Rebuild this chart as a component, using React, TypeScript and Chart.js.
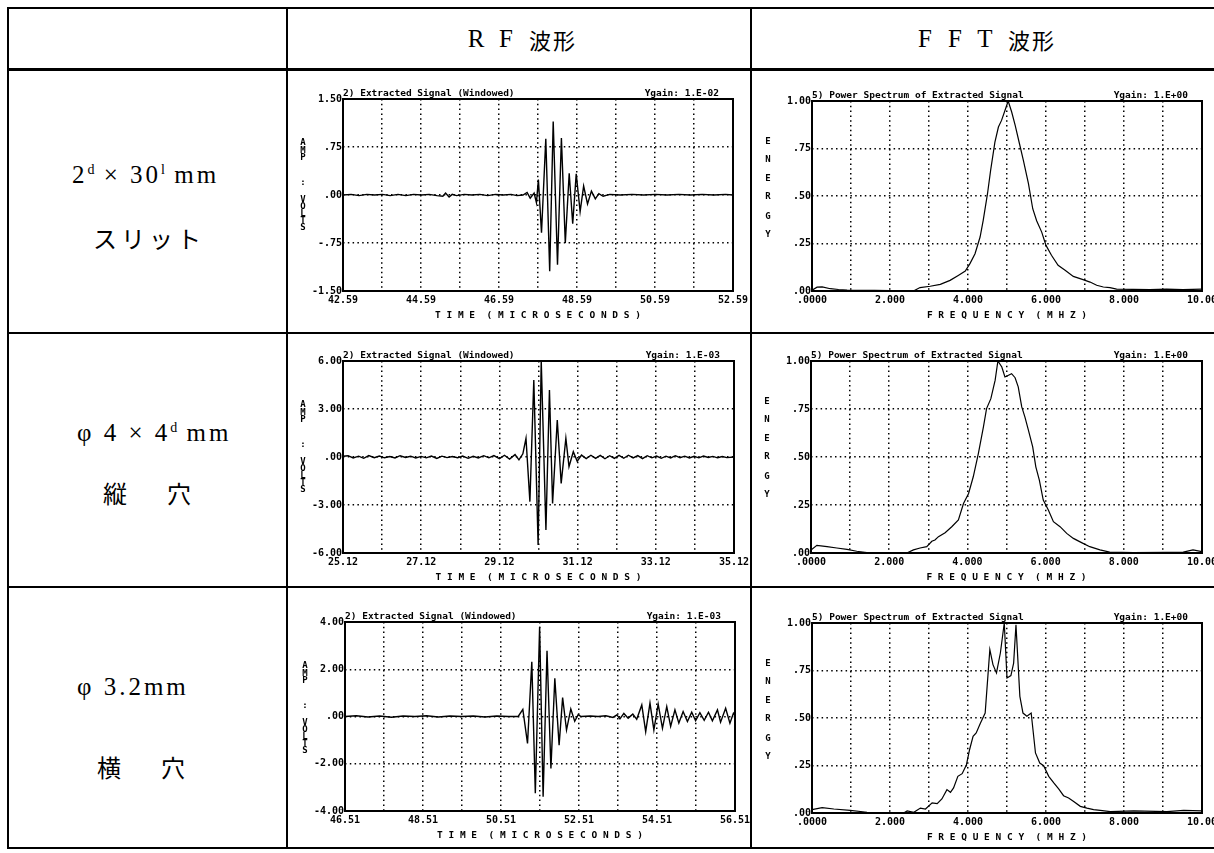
import React, { useEffect, useRef } from 'react';
import { Chart, registerables } from 'chart.js';

Chart.register(...registerables);

// ---------------- DATA ----------------
const headerLabels = ['RF波形', 'FFT波形'];

const rfTitle = '2) Extracted Signal (Windowed)';
const fftTitle = '5) Power Spectrum of Extracted Signal';
const rfXTitle = 'T I M E  ( M I C R O S E C O N D S )';
const fftXTitle = 'F R E Q U E N C Y  ( M H Z )';
const rfYTitle = ['A', 'M', 'P', ':', 'V', 'O', 'L', 'T', 'S'];
const fftYTitle = ['E', 'N', 'E', 'R', 'G', 'Y'];
const rfGains = ['Ygain: 1.E-02', 'Ygain: 1.E-03', 'Ygain: 1.E-03'];
const fftGain = 'Ygain: 1.E+00';

const rf1XLabels = ['42.59', '', '44.59', '', '46.59', '', '48.59', '', '50.59', '', '52.59'];
const rf2XLabels = ['25.12', '', '27.12', '', '29.12', '', '31.12', '', '33.12', '', '35.12'];
const rf3XLabels = ['46.51', '', '48.51', '', '50.51', '', '52.51', '', '54.51', '', '56.51'];
const fftXLabels = ['.0000', '', '2.000', '', '4.000', '', '6.000', '', '8.000', '', '10.00'];
const rf1YLabels = ['-1.50', '-.75', '.00', '.75', '1.50'];
const rf2YLabels = ['-6.00', '-3.00', '.00', '3.00', '6.00'];
const rf3YLabels = ['-4.00', '-2.00', '.00', '2.00', '4.00'];
const fftYLabels = ['.00', '.25', '.50', '.75', '1.00'];

// RF waveform 1 (2d x 30l mm slit)
const rf1Time = [42.59, 42.80, 43.00, 43.20, 43.40, 43.60, 43.80, 44.00, 44.20, 44.40, 44.60, 44.80, 45.00, 45.15, 45.22, 45.31, 45.39, 45.50, 45.70, 45.90, 46.10, 46.30, 46.50, 46.70, 46.90, 47.05, 47.205, 47.31, 47.39, 47.49, 47.55, 47.60, 47.68, 47.79, 47.89, 47.98, 48.09, 48.19, 48.29, 48.39, 48.48, 48.57, 48.67, 48.76, 48.86, 48.96, 49.06, 49.15, 49.26, 49.43, 49.70, 50.00, 50.30, 50.60, 50.90, 51.20, 51.50, 51.80, 52.10, 52.40, 52.59];
const rf1Amp = [0.00, 0.01, -0.01, 0.01, 0.00, 0.01, -0.01, 0.01, -0.01, 0.01, 0.00, 0.01, -0.01, -0.02, 0.03, -0.03, 0.01, -0.01, 0.01, 0.00, 0.01, -0.01, 0.01, 0.00, 0.01, -0.01, 0.00, 0.04, -0.05, 0.03, -0.12, 0.24, -0.59, 0.88, -1.19, 1.15, -1.09, 0.89, -0.75, 0.34, -0.45, 0.33, -0.26, 0.14, -0.14, 0.06, -0.06, 0.02, -0.02, 0.01, 0.00, 0.01, 0.00, 0.01, 0.00, 0.01, 0.00, 0.01, 0.00, 0.01, 0.00];

// RF waveform 2 (phi4 x 4d mm vertical hole)
const rf2Time = [25.12, 25.25, 25.38, 25.52, 25.65, 25.78, 25.92, 26.05, 26.18, 26.32, 26.45, 26.58, 26.72, 26.85, 26.98, 27.12, 27.25, 27.38, 27.52, 27.65, 27.78, 27.92, 28.05, 28.18, 28.32, 28.45, 28.58, 28.72, 28.85, 28.98, 29.12, 29.25, 29.38, 29.52, 29.62, 29.72, 29.80, 29.90, 30.00, 30.11, 30.19, 30.31, 30.40, 30.48, 30.60, 30.70, 30.82, 30.90, 31.01, 31.11, 31.22, 31.34, 31.46, 31.58, 31.70, 31.82, 31.94, 32.06, 32.18, 32.30, 32.42, 32.54, 32.66, 32.78, 32.90, 33.02, 33.14, 33.26, 33.38, 33.50, 33.62, 33.74, 33.86, 33.98, 34.10, 34.22, 34.34, 34.46, 34.58, 34.70, 34.82, 34.94, 35.12];
const rf2Amp = [0.05, 0.08, -0.06, 0.05, -0.08, 0.09, -0.04, 0.06, -0.05, 0.03, -0.06, 0.08, -0.03, 0.05, -0.06, 0.04, -0.05, 0.06, -0.09, 0.05, -0.04, 0.03, -0.05, 0.06, -0.08, 0.04, -0.06, 0.08, -0.05, 0.09, -0.10, 0.11, -0.13, 0.15, -0.18, 0.20, 1.17, -2.79, 4.81, -5.50, 6.00, -4.56, 4.19, -2.90, 2.31, -1.65, 1.17, -0.60, 0.33, -0.27, 0.12, -0.10, 0.11, -0.09, 0.10, -0.11, 0.08, -0.09, 0.10, -0.08, 0.11, -0.06, 0.09, -0.10, 0.08, -0.05, 0.06, -0.08, 0.05, -0.06, 0.08, -0.04, 0.05, -0.06, 0.04, -0.05, 0.06, -0.03, 0.04, -0.05, 0.03, -0.04, 0.00];

// RF waveform 3 (phi3.2 mm side-drilled hole)
const rf3Time = [46.51, 46.80, 47.10, 47.40, 47.70, 48.00, 48.30, 48.60, 48.90, 49.20, 49.50, 49.80, 50.10, 50.40, 50.70, 50.95, 51.07, 51.19, 51.30, 51.39, 51.50, 51.59, 51.69, 51.79, 51.89, 52.00, 52.09, 52.19, 52.30, 52.40, 52.49, 52.56, 52.80, 53.00, 53.20, 53.38, 53.48, 53.56, 53.66, 53.77, 53.89, 53.99, 54.12, 54.22, 54.33, 54.43, 54.54, 54.65, 54.76, 54.86, 54.97, 55.07, 55.18, 55.29, 55.40, 55.50, 55.61, 55.72, 55.83, 55.93, 56.06, 56.14, 56.27, 56.38, 56.47, 56.51];
const rf3Amp = [0.00, 0.03, -0.02, 0.02, -0.03, 0.02, 0.00, 0.03, -0.02, 0.02, 0.00, 0.02, -0.02, 0.02, 0.00, 0.00, 0.30, -1.14, 2.32, -3.25, 3.80, -3.40, 2.78, -2.20, 1.62, -1.21, 0.80, -0.57, 0.32, -0.20, 0.08, 0.00, 0.02, 0.00, 0.03, -0.04, 0.07, -0.10, 0.13, -0.07, 0.10, -0.12, 0.49, -0.64, 0.57, -0.57, 0.52, -0.50, 0.42, -0.42, 0.28, -0.28, 0.21, -0.21, 0.18, -0.18, 0.16, -0.16, 0.18, -0.18, 0.28, -0.24, 0.35, -0.28, 0.14, 0.05];

// FFT spectra
const fft1Freq = [0, 0.13, 0.26, 0.47, 0.68, 0.90, 1.20, 1.60, 2.00, 2.30, 2.60, 2.77, 3.03, 3.29, 3.54, 3.75, 3.93, 4.05, 4.18, 4.31, 4.39, 4.50, 4.58, 4.69, 4.78, 4.86, 4.95, 5.03, 5.12, 5.21, 5.32, 5.42, 5.55, 5.66, 5.76, 5.89, 6.00, 6.14, 6.31, 6.49, 6.70, 6.95, 7.13, 7.30, 7.47, 7.64, 7.81, 8.23, 8.66, 9.09, 9.51, 10.00];
const fft1Energy = [0.004, 0.020, 0.022, 0.012, 0.008, 0.005, 0.004, 0.003, 0.002, 0.001, 0.000, 0.018, 0.025, 0.035, 0.056, 0.082, 0.105, 0.144, 0.196, 0.284, 0.372, 0.512, 0.635, 0.784, 0.863, 0.898, 0.951, 1.000, 0.942, 0.872, 0.775, 0.688, 0.565, 0.433, 0.370, 0.310, 0.240, 0.188, 0.135, 0.109, 0.077, 0.060, 0.047, 0.030, 0.021, 0.018, 0.010, 0.009, 0.007, 0.010, 0.007, 0.010];

const fft2Freq = [0, 0.15, 0.41, 0.66, 0.92, 1.17, 1.43, 2.00, 2.45, 2.62, 2.79, 2.96, 3.09, 3.17, 3.26, 3.43, 3.60, 3.77, 3.90, 4.03, 4.15, 4.28, 4.41, 4.49, 4.60, 4.71, 4.78, 4.88, 4.96, 5.05, 5.13, 5.22, 5.30, 5.39, 5.47, 5.56, 5.67, 5.75, 5.84, 5.94, 6.07, 6.20, 6.37, 6.54, 6.71, 6.92, 7.13, 7.39, 7.64, 8.24, 9.09, 9.52, 9.77, 10.00];
const fft2Energy = [0.016, 0.040, 0.033, 0.026, 0.019, 0.009, 0.002, 0.001, 0.000, 0.016, 0.026, 0.033, 0.061, 0.068, 0.085, 0.106, 0.137, 0.172, 0.258, 0.310, 0.397, 0.518, 0.657, 0.752, 0.804, 0.900, 1.000, 0.969, 0.917, 0.926, 0.934, 0.913, 0.865, 0.761, 0.709, 0.640, 0.553, 0.449, 0.380, 0.276, 0.224, 0.163, 0.137, 0.102, 0.076, 0.054, 0.033, 0.016, 0.005, 0.002, 0.003, 0.005, 0.016, 0.007];

const fft3Freq = [0, 0.26, 0.56, 0.98, 1.41, 2.00, 2.35, 2.44, 2.61, 2.78, 2.91, 3.08, 3.21, 3.33, 3.46, 3.55, 3.63, 3.74, 3.85, 3.96, 4.04, 4.13, 4.21, 4.32, 4.44, 4.56, 4.64, 4.73, 4.83, 4.93, 5.00, 5.10, 5.17, 5.23, 5.33, 5.41, 5.51, 5.62, 5.73, 5.84, 5.94, 6.07, 6.20, 6.33, 6.45, 6.58, 6.71, 6.88, 7.05, 7.22, 7.39, 7.65, 8.25, 9.10, 9.53, 10.00];
const fft3Energy = [0.018, 0.028, 0.021, 0.014, 0.004, 0.001, 0.000, 0.011, 0.004, 0.026, 0.021, 0.053, 0.049, 0.074, 0.123, 0.109, 0.132, 0.193, 0.207, 0.254, 0.333, 0.404, 0.421, 0.474, 0.526, 0.860, 0.781, 0.737, 0.842, 1.000, 0.711, 0.723, 0.789, 0.990, 0.614, 0.526, 0.509, 0.526, 0.316, 0.263, 0.249, 0.193, 0.158, 0.126, 0.091, 0.079, 0.061, 0.035, 0.026, 0.018, 0.014, 0.007, 0.011, 0.007, 0.014, 0.011];

// ---------------- STYLE / LAYOUT ----------------
const MONO = '"DejaVu Sans Mono", "Liberation Mono", monospace';
const SERIF = '"Liberation Serif", "DejaVu Serif", serif';
const CJK = '"Noto Sans CJK JP", "Noto Sans CJK SC", sans-serif';

type PanelSpec = {
  xs: number[]; ys: number[];
  xMin: number; xMax: number; xStep: number; xLabels: string[];
  yMin: number; yMax: number; yStep: number; yLabels: string[];
  title: string; gain: string; xTitle: string; yTitle: string[];
  kind: 'rf' | 'fft';
  area: { left: number; top: number; right: number; bottom: number };
};

const RF_YT = [44, 52, 59, 84, 101, 108, 115, 122, 129];
const FFT_YT = [41, 59, 78, 96, 116, 134];

const panels: PanelSpec[] = [
  { xs: rf1Time, ys: rf1Amp, xMin: 42.59, xMax: 52.59, xStep: 1, xLabels: rf1XLabels, yMin: -1.5, yMax: 1.5, yStep: 0.75, yLabels: rf1YLabels, title: rfTitle, gain: rfGains[0], xTitle: rfXTitle, yTitle: rfYTitle, kind: 'rf', area: { left: 343, top: 99, right: 733, bottom: 291 } },
  { xs: fft1Freq, ys: fft1Energy, xMin: 0, xMax: 10, xStep: 1, xLabels: fftXLabels, yMin: 0, yMax: 1, yStep: 0.25, yLabels: fftYLabels, title: fftTitle, gain: fftGain, xTitle: fftXTitle, yTitle: fftYTitle, kind: 'fft', area: { left: 812, top: 101, right: 1202, bottom: 291 } },
  { xs: rf2Time, ys: rf2Amp, xMin: 25.12, xMax: 35.12, xStep: 1, xLabels: rf2XLabels, yMin: -6, yMax: 6, yStep: 3, yLabels: rf2YLabels, title: rfTitle, gain: rfGains[1], xTitle: rfXTitle, yTitle: rfYTitle, kind: 'rf', area: { left: 343, top: 361, right: 734, bottom: 553 } },
  { xs: fft2Freq, ys: fft2Energy, xMin: 0, xMax: 10, xStep: 1, xLabels: fftXLabels, yMin: 0, yMax: 1, yStep: 0.25, yLabels: fftYLabels, title: fftTitle, gain: fftGain, xTitle: fftXTitle, yTitle: fftYTitle, kind: 'fft', area: { left: 811, top: 361, right: 1202, bottom: 553 } },
  { xs: rf3Time, ys: rf3Amp, xMin: 46.51, xMax: 56.51, xStep: 1, xLabels: rf3XLabels, yMin: -4, yMax: 4, yStep: 2, yLabels: rf3YLabels, title: rfTitle, gain: rfGains[2], xTitle: rfXTitle, yTitle: rfYTitle, kind: 'rf', area: { left: 345, top: 622, right: 735, bottom: 811 } },
  { xs: fft3Freq, ys: fft3Energy, xMin: 0, xMax: 10, xStep: 1, xLabels: fftXLabels, yMin: 0, yMax: 1, yStep: 0.25, yLabels: fftYLabels, title: fftTitle, gain: fftGain, xTitle: fftXTitle, yTitle: fftYTitle, kind: 'fft', area: { left: 812, top: 623, right: 1202, bottom: 813 } },
];

const PAD_TOP = 17;
const X_AXIS_H = 30;

function ScopePanel({ p }: { p: PanelSpec }) {
  const ref = useRef<HTMLCanvasElement>(null);
  const yw = p.kind === 'rf' ? 53 : 60;
  const padR = p.kind === 'rf' ? 16 : 12;
  const a = p.area;
  const left = a.left - yw;
  const top = a.top - PAD_TOP;
  const width = yw + (a.right - a.left) + padR;
  const height = PAD_TOP + (a.bottom - a.top) + X_AXIS_H;
  const yTitleX = p.kind === 'rf' ? 13 : 16;
  const yTitleOffsets = p.kind === 'rf' ? RF_YT : FFT_YT;

  useEffect(() => {
    if (!ref.current) return;
    const tickFont = { family: MONO, size: 10, weight: 'bold' as const };
    const titleFont = { family: MONO, size: 9.5, weight: 'bold' as const };
    const framePlugin = {
      id: 'frame',
      afterDraw(chart: any) {
        const { ctx, chartArea: c } = chart;
        ctx.save();
        ctx.strokeStyle = '#000';
        ctx.lineWidth = 2;
        ctx.strokeRect(c.left, c.top, c.right - c.left, c.bottom - c.top);
        ctx.fillStyle = '#000';
        ctx.font = `bold 9.5px ${MONO}`;
        ctx.textBaseline = 'alphabetic';
        ctx.textAlign = 'left';
        ctx.fillText(p.title, c.left, c.top - 3);
        ctx.textAlign = 'right';
        ctx.fillText(p.gain, c.right - 14, c.top - 3);
        ctx.textAlign = 'center';
        ctx.textBaseline = 'middle';
        ctx.font = `bold 9px ${MONO}`;
        p.yTitle.forEach((ch, i) => ctx.fillText(ch, yTitleX, c.top + yTitleOffsets[i]));
        ctx.restore();
      },
    };
    const chart = new Chart(ref.current, {
      type: 'line',
      data: {
        datasets: [
          {
            data: p.xs.map((x, i) => ({ x, y: p.ys[i] })),
            borderColor: '#000',
            borderWidth: p.kind === 'rf' ? 1.4 : 1.2,
            pointRadius: 0,
            tension: 0,
            fill: false,
          },
        ],
      },
      options: {
        responsive: false,
        animation: false,
        events: [],
        layout: { padding: { left: 0, right: padR, top: PAD_TOP, bottom: 0 } },
        plugins: { legend: { display: false }, tooltip: { enabled: false }, title: { display: false } },
        scales: {
          x: {
            type: 'linear',
            min: p.xMin,
            max: p.xMax,
            ticks: {
              stepSize: p.xStep,
              autoSkip: false,
              maxRotation: 0,
              minRotation: 0,
              padding: 3,
              color: '#000',
              font: tickFont,
              callback: (_v: any, i: number) => p.xLabels[i] ?? '',
            },
            grid: { color: '#000', lineWidth: 1.5, drawTicks: false },
            border: { display: false, dash: [1.5, 3.3] },
            title: { display: true, text: p.xTitle, color: '#000', font: titleFont, padding: { top: 0, bottom: 0 } },
            afterFit: (s: any) => {
              s.height = X_AXIS_H;
              s.paddingLeft = 0;
              s.paddingRight = 0;
            },
          },
          y: {
            type: 'linear',
            min: p.yMin,
            max: p.yMax,
            ticks: {
              stepSize: p.yStep,
              autoSkip: false,
              padding: 1,
              color: '#000',
              font: tickFont,
              callback: (_v: any, i: number) => p.yLabels[i] ?? '',
            },
            grid: { color: '#000', lineWidth: 1.5, drawTicks: false },
            border: { display: false, dash: [1.5, 3.3] },
            afterFit: (s: any) => {
              s.width = yw;
              s.paddingTop = 0;
              s.paddingBottom = 0;
            },
          },
        },
      },
      plugins: [framePlugin],
    } as any);
    return () => chart.destroy();
  }, []);

  return (
    <canvas
      ref={ref}
      width={width}
      height={height}
      style={{ position: 'absolute', left, top, width, height }}
    />
  );
}

const hLines = [
  { y: 7, h: 2 },
  { y: 68, h: 3 },
  { y: 332, h: 2 },
  { y: 586, h: 2 },
  { y: 847, h: 2 },
];
const vLines = [{ x: 7 }, { x: 286 }, { x: 750 }];

const latin: React.CSSProperties = { fontFamily: SERIF, fontSize: 25, display: 'inline-block', width: 30, textAlign: 'center' };
const cjkHead: React.CSSProperties = { fontFamily: CJK, fontSize: 22, marginLeft: 8, letterSpacing: 2 };
const labelLatin: React.CSSProperties = { fontFamily: SERIF, fontSize: 25, letterSpacing: 3 };
const supStyle: React.CSSProperties = { fontSize: 14, position: 'relative', top: -9, fontFamily: SERIF };
const cjkLabel: React.CSSProperties = { fontFamily: CJK, fontSize: 24, letterSpacing: 4 };

function Label({ left, cy, children }: { left: number; cy: number; children: React.ReactNode }) {
  return (
    <div style={{ position: 'absolute', left, top: cy - 16, height: 32, lineHeight: '32px', whiteSpace: 'nowrap', color: '#000' }}>
      {children}
    </div>
  );
}

export default function App() {
  return (
    <div style={{ position: 'absolute', left: 0, top: 0, width: 1214, height: 853, background: '#fff', overflow: 'hidden' }}>
      {hLines.map((l, i) => (
        <div key={'h' + i} style={{ position: 'absolute', left: 7, top: l.y, width: 1214 - 7, height: l.h, background: '#000' }} />
      ))}
      {vLines.map((l, i) => (
        <div key={'v' + i} style={{ position: 'absolute', left: l.x, top: 7, width: 2, height: 842, background: '#000' }} />
      ))}

      {/* header */}
      <div style={{ position: 'absolute', left: 288, top: 9, width: 462, height: 59, display: 'flex', alignItems: 'center', justifyContent: 'center' }}>
        <span style={latin}>R</span>
        <span style={latin}>F</span>
        <span style={cjkHead}>{headerLabels[0].slice(2)}</span>
      </div>
      <div style={{ position: 'absolute', left: 752, top: 9, width: 462, height: 59, display: 'flex', alignItems: 'center', justifyContent: 'center' }}>
        <span style={latin}>F</span>
        <span style={latin}>F</span>
        <span style={latin}>T</span>
        <span style={cjkHead}>{headerLabels[1].slice(3)}</span>
      </div>

      {/* row labels */}
      <Label left={72} cy={175}>
        <span style={labelLatin}>2</span>
        <span style={supStyle}>d</span>
        <span style={labelLatin}> × 30</span>
        <span style={supStyle}>l</span>
        <span style={labelLatin}> mm</span>
      </Label>
      <Label left={93} cy={238}>
        <span style={cjkLabel}>スリット</span>
      </Label>

      <Label left={77} cy={433}>
        <span style={labelLatin}>φ 4 × 4</span>
        <span style={supStyle}>d</span>
        <span style={labelLatin}> mm</span>
      </Label>
      <Label left={103} cy={493}>
        <span style={{ ...cjkLabel, letterSpacing: 8 }}>縦　穴</span>
      </Label>

      <Label left={77} cy={687}>
        <span style={labelLatin}>φ 3.2mm</span>
      </Label>
      <Label left={97} cy={767}>
        <span style={{ ...cjkLabel, letterSpacing: 8 }}>横　穴</span>
      </Label>

      {panels.map((p, i) => (
        <ScopePanel key={i} p={p} />
      ))}
    </div>
  );
}
